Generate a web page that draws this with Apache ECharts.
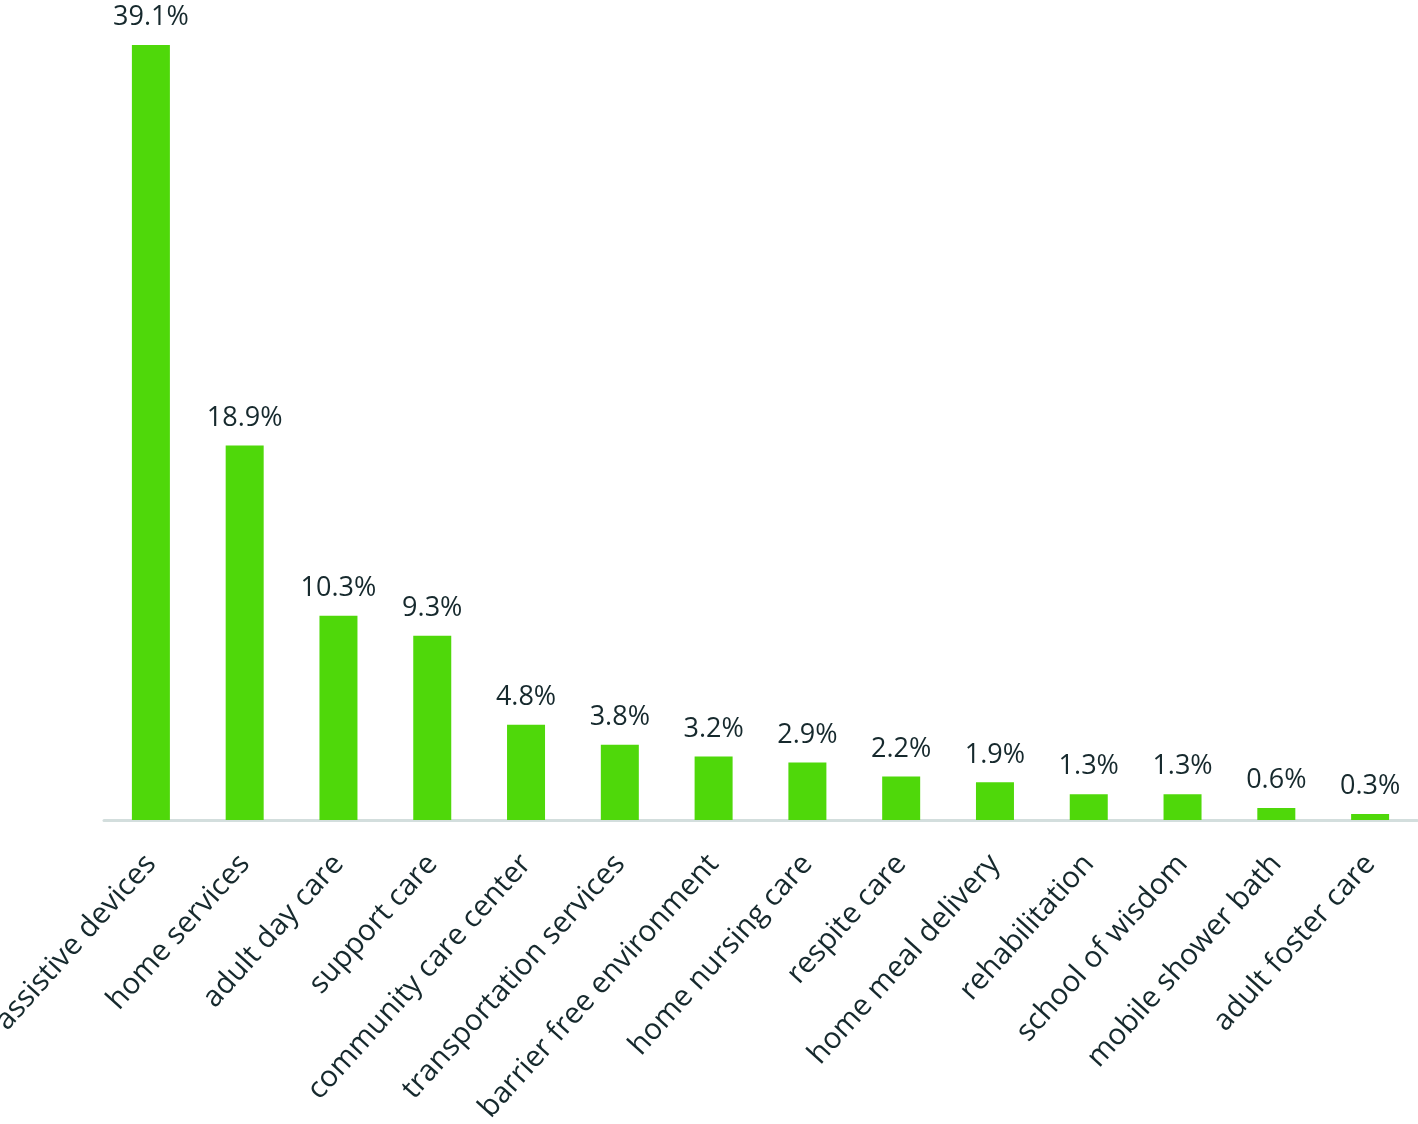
<!DOCTYPE html>
<html>
<head>
<meta charset="utf-8">
<script src="https://cdn.jsdelivr.net/npm/echarts@6/dist/echarts.min.js"></script>
<style>
  html, body { margin: 0; padding: 0; background: #fff; }
  #chart { width: 1418px; height: 1124px; }
</style>
</head>
<body>
<div id="chart"></div>
<script>
  // categories and shares (%)
  var categories = ['assistive devices', 'home services', 'adult day care', 'support care',
    'community care center', 'transportation services', 'barrier free environment',
    'home nursing care', 'respite care', 'home meal delivery', 'rehabilitation',
    'school of wisdom', 'mobile shower bath', 'adult foster care'];
  var shares = [39.1, 18.9, 10.3, 9.3, 4.8, 3.8, 3.2, 2.9, 2.2, 1.9, 1.3, 1.3, 0.6, 0.3];

  var chart = echarts.init(document.getElementById('chart'));
  chart.setOption({
    animation: false,
    textStyle: { fontFamily: 'Open Sans' },
    grid: { left: 104, right: 1, top: 45, bottom: 304, containLabel: false, outerBoundsMode: 'none' },
    xAxis: {
      type: 'category',
      data: categories,
      axisLine: { lineStyle: { color: '#d3dedd', width: 3 } },
      axisTick: { show: false },
      axisLabel: {
        rotate: 48,
        interval: 0,
        margin: 39,
        fontSize: 29.5,
        color: '#16292d'
      }
    },
    yAxis: {
      type: 'value',
      min: 0,
      max: 39.1,
      show: false,
      splitLine: { show: false }
    },
    series: [{
      type: 'bar',
      data: shares,
      barWidth: 38,
      itemStyle: { color: '#4fd80a' },
      label: {
        show: true,
        position: 'top',
        distance: 14,
        fontSize: 27,
        color: '#16292d',
        formatter: function (p) { return p.value.toFixed(1) + '%'; }
      }
    }]
  });
</script>
</body>
</html>
